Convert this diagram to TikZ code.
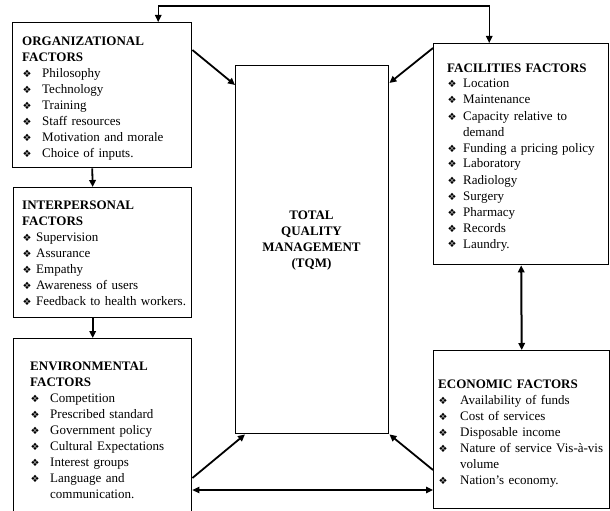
\documentclass[tikz,border=0pt]{standalone}
\usepackage{fontspec}
\setmainfont{Liberation Serif}
\newfontfamily\dingfont{DejaVu Sans}
\usetikzlibrary{arrows.meta}

\newcommand{\bul}[1]{\makebox[#1][l]{\hspace{0.5pt}\raisebox{0pt}{\dingfont\fontsize{10}{10}\selectfont ❖}}}

\begin{document}
\begin{tikzpicture}[x=1pt, y=-1pt,
    box/.style={draw, line width=1.4pt, anchor=north west, inner sep=0pt},
    txt/.style={anchor=base west, inner sep=0pt, align=left, text width=#1, font=\fontsize{13}{16}\selectfont},
    arr/.style={line width=1.8pt, -{Triangle[length=7pt,width=6.5pt]}},
    link/.style={line width=1.2pt, {Triangle[length=7pt,width=6.5pt]}-{Triangle[length=7pt,width=6.5pt]}}]
  \useasboundingbox (0,0) rectangle (610,511);
  \clip (0,0) rectangle (610,511);

  % boxes
  \node[box, minimum width=179pt, minimum height=145pt] (org) at (12,22) {};
  \node[box, minimum width=178pt, minimum height=130pt] (inter) at (13,187) {};
  \node[box, minimum width=178pt, minimum height=180pt] (env) at (13,338) {};
  \node[box, minimum width=153pt, minimum height=368pt] (tqm) at (235,65) {};
  \node[box, minimum width=175pt, minimum height=221pt] (fac) at (433,43) {};
  \node[box, minimum width=176pt, minimum height=158pt] (eco) at (433,350) {};

  % texts
  \node[txt=168pt] (orgtxt) at (22,45.5) {\textbf{ORGANIZATIONAL}\\\textbf{FACTORS}\\
    \bul{20pt}Philosophy\\\bul{20pt}Technology\\\bul{20pt}Training\\
    \bul{20pt}Staff resources\\\bul{20pt}Motivation and morale\\\bul{20pt}Choice of inputs.};
  \node[txt=168pt] (intertxt) at (22,209) {\textbf{INTERPERSONAL}\\\textbf{FACTORS}\\
    \bul{14pt}Supervision\\\bul{14pt}Assurance\\\bul{14pt}Empathy\\
    \bul{14pt}Awareness of users\\\bul{14pt}Feedback to health workers.};
  \node[txt=160pt] (envtxt) at (30,370) {\textbf{ENVIRONMENTAL}\\\textbf{FACTORS}\\
    \bul{20pt}Competition\\\bul{20pt}Prescribed standard\\\bul{20pt}Government policy\\
    \bul{20pt}Cultural Expectations\\\bul{20pt}Interest groups\\\bul{20pt}Language and\\
    \hspace*{20pt}communication.};
  \node[anchor=base, inner sep=0pt, align=center, text width=140pt,
    font=\fontsize{13}{16}\selectfont\bfseries] (tqmtxt) at (311.5,219)
    {TOTAL\\QUALITY\\MANAGEMENT\\(TQM)};
  \node[txt=160pt] (factxt) at (447,72) {\textbf{FACILITIES FACTORS}\\
    \bul{16pt}Location\\\bul{16pt}Maintenance\\\bul{16pt}Capacity relative to\\
    \hspace*{16pt}demand\\\bul{16pt}Funding a pricing policy\\\bul{16pt}Laboratory\\
    \bul{16pt}Radiology\\\bul{16pt}Surgery\\\bul{16pt}Pharmacy\\\bul{16pt}Records\\
    \bul{16pt}Laundry.};
  \node[txt=168pt] (ecotxt) at (438,388) {\textbf{ECONOMIC FACTORS}\\
    \bul{22pt}Availability of funds\\\bul{22pt}Cost of services\\\bul{22pt}Disposable income\\
    \bul{22pt}Nature of service Vis-à-vis\\\hspace*{22pt}volume\\\bul{22pt}Nation's economy.};

  % connectors
  \coordinate (topbar) at (0,6);
  \coordinate (botbar) at (0,490);
  \coordinate (t1) at ([xshift=56pt]org.north);
  \coordinate (t2) at ([xshift=-32pt]fac.north);
  \draw[link] (t1) -- (t1 |- topbar) -- (t2 |- topbar) -- (t2);
  \draw[arr] ([xshift=-10pt]org.south) -- ([xshift=-10pt]inter.north);
  \draw[arr] ([xshift=-10pt]inter.south) -- ([xshift=-10pt]env.north);
  \draw[arr] ([yshift=-28pt]org.north east) -- ([yshift=-20pt]tqm.north west);
  \draw[arr] ([yshift=-5pt]fac.north west) -- ([yshift=-18pt]tqm.north east);
  \draw[arr] ([yshift=-140pt]env.north east) -- ([xshift=10pt]tqm.south west);
  \draw[arr] ([yshift=-120pt]eco.north west) -- (tqm.south east);
  \draw[link, line width=2pt] (fac.south) -- (eco.north);
  \draw[link] (env.east |- botbar) -- (eco.west |- botbar);
\end{tikzpicture}
\end{document}
